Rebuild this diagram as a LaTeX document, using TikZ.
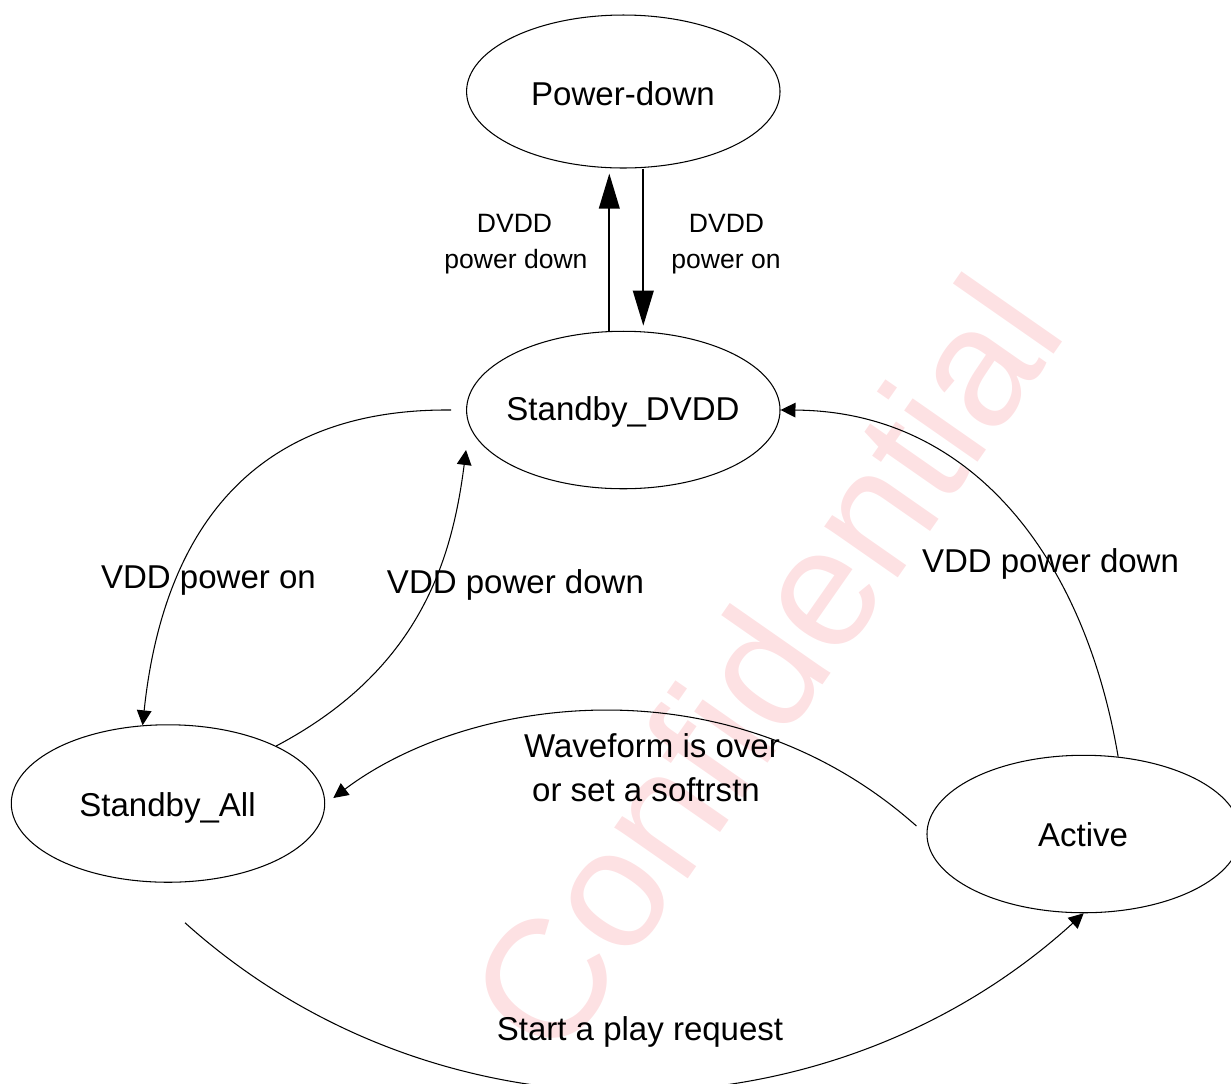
\documentclass[tikz,border=0pt]{standalone}
\usepackage{fontspec}
\setmainfont{Liberation Sans}
\usetikzlibrary{shapes.geometric,arrows.meta}
\definecolor{wmpink}{RGB}{253,225,227}
\begin{document}
\begin{tikzpicture}[x=0.02cm,y=-0.02cm,
  state/.style={draw, ellipse, line width=0.6pt, inner sep=0pt,
    minimum width=6.27cm, minimum height=3.15cm},
  bigtext/.style={font=\fontsize{18.8}{22}\selectfont, inner sep=0pt, anchor=base},
  smalltext/.style={font=\fontsize{15.1}{18}\selectfont, inner sep=0pt, anchor=base},
  thinarrow/.style={line width=0.6pt, -{Triangle[length=8.5pt,width=8.3pt]}},
  thickarrow/.style={line width=1.3pt, -{Triangle[length=20pt,width=11.7pt]}},
  watermark/.style={text=wmpink, inner sep=0pt, anchor=base west, rotate=55.1,
    font=\fontsize{96.4}{110}\selectfont}
]
\useasboundingbox (0,0) rectangle (1231,1083);
\clip (0,0) rectangle (1231,1083);

% watermark
\node[watermark] (wmark) at (557,1066) {Confidential};

% states
\node[state, minimum height=3.06cm] (pd) at (623.3,91.5) {};
\node[state] (sdvdd) at (623.3,410) {};
\node[state] (sall) at (168,803.5) {};
\node[state] (act) at (1083.7,834) {};

\node[bigtext] (pdtxt) at (623,105) {Power-down};
\node[bigtext] (sdtxt) at (623,420) {Standby\_DVDD};
\node[bigtext] (satxt) at (167.5,816) {Standby\_All};
\node[bigtext] (actxt) at (1083,846) {Active};

% DVDD transitions
\draw[thickarrow] ([xshift=-0.28cm]sdvdd.north) -- ([xshift=-0.28cm,yshift=-0.1cm]pd.south);
\draw[thickarrow] ([xshift=0.4cm]pd.south) -- ([xshift=0.4cm,yshift=0.1cm]sdvdd.north);
\node[smalltext] (l1a) at (514.5,232.7) {DVDD};
\node[smalltext] (l1b) at (516,268) {power down};
\node[smalltext] (l2a) at (726.5,232.7) {DVDD};
\node[smalltext] (l2b) at (726,268) {power on};

% VDD power on
\draw[thinarrow] ([xshift=-0.3cm]sdvdd.west) .. controls (230,408) and (160,560) .. (sall.108);
\node[bigtext] (l3) at (208.5,588) {VDD power on};

% VDD power down (left)
\draw[thinarrow] (sall.28) .. controls (420,670) and (452,560) .. ([yshift=-0.8cm]sdvdd.west);
\node[bigtext] (l4) at (515.5,593) {VDD power down};

% VDD power down (right)
\draw[thinarrow] (act.66) .. controls (1084,555) and (970,411) .. (sdvdd.east);
\node[bigtext] (l5) at (1050.5,572) {VDD power down};

% Waveform is over
\draw[thinarrow] ([xshift=-0.2cm,yshift=0.16cm]act.west) .. controls (730,660) and (470,695) .. ([xshift=0.16cm,yshift=0.11cm]sall.east);
\node[bigtext] (l6a) at (652,757) {Waveform is over};
\node[bigtext] (l6b) at (646,801) {or set a softrstn};

% Start a play request
\draw[thinarrow] ([xshift=0.34cm,yshift=-0.8cm]sall.south) .. controls (440,1152) and (830,1144) .. (act.south);
\node[bigtext] (l7) at (640,1040.7) {Start a play request};
\end{tikzpicture}
\end{document}
